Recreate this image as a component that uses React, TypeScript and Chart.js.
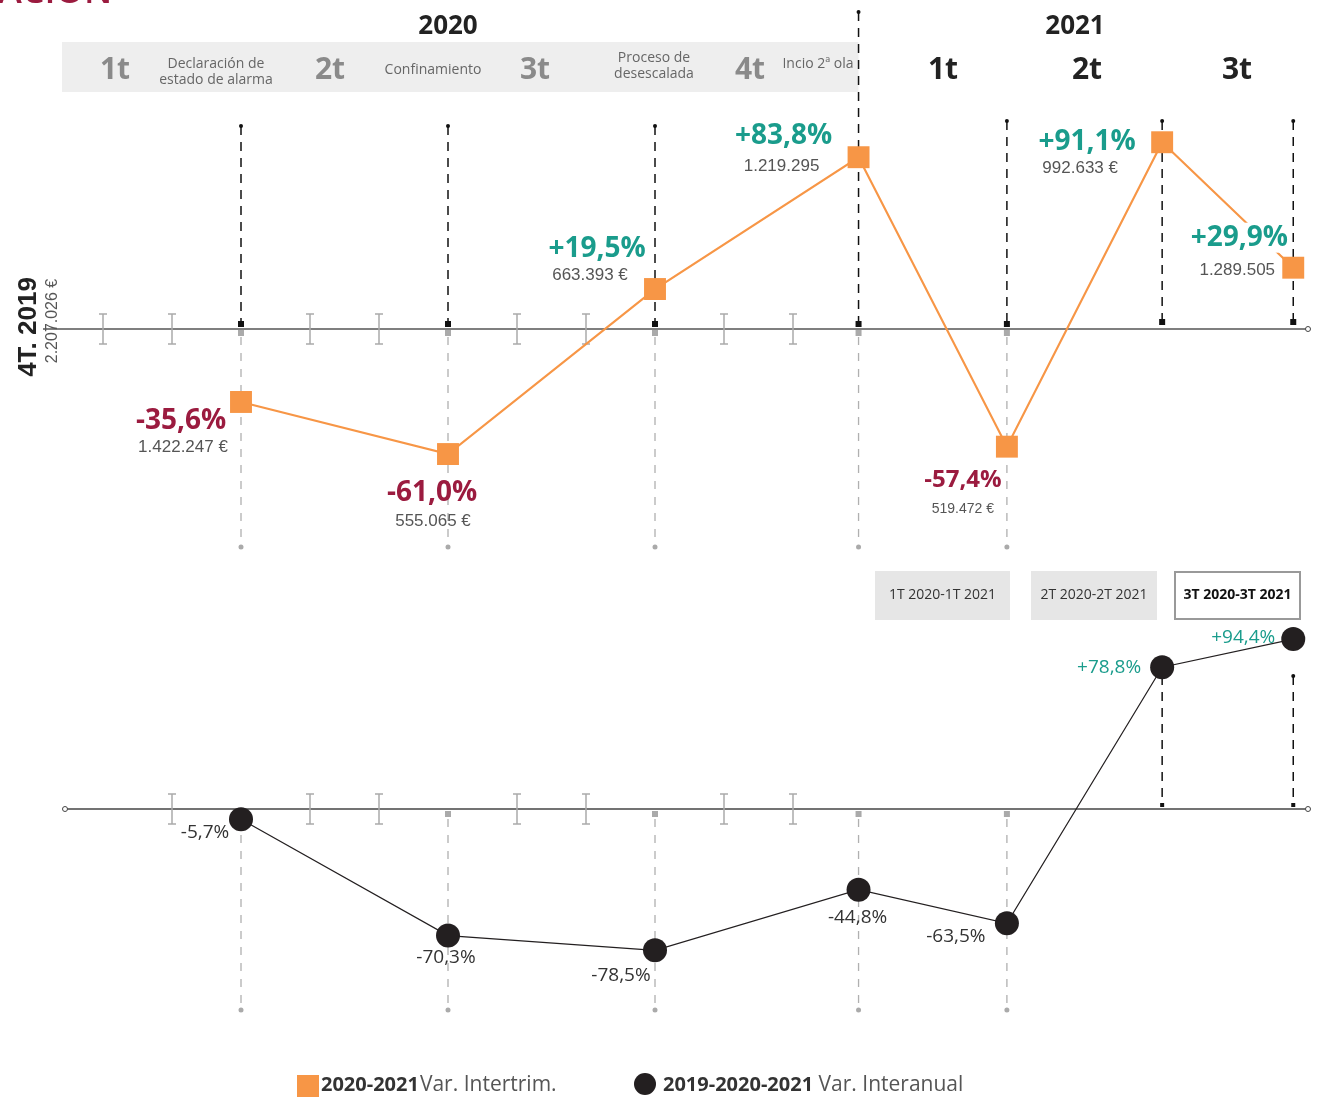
import React, { useEffect, useRef } from 'react';
import { Chart, registerables } from 'chart.js';

Chart.register(...registerables);

// ---------- data ----------
const quarters = ['1T 2020', '2T 2020', '3T 2020', '4T 2020', '1T 2021', '2T 2021', '3T 2021'];
// position of each quarter on the timeline (months-like units; 2021 drawn compressed)
const quarterPos = [3, 6, 9, 11.95, 14.1, 16.35, 18.25];
const monthTicksTop = [1, 2, 4, 5, 7, 8, 10, 11];
const monthTicksBottom = [2, 4, 5, 7, 8, 10, 11];
const intertrimPct = [-35.6, -61.0, 19.5, 83.8, -57.4, 91.1, 29.9];
const intertrimEur = ['1.422.247 €', '555.065 €', '663.393 €', '1.219.295', '519.472 €', '992.633 €', '1.289.505'];
const interanualPct = [-5.7, -70.3, -78.5, -44.8, -63.5, 78.8, 94.4];
const baseLabel = '4T. 2019';
const baseValue = '2.207.026 €';
const periods2020 = ['1t', '2t', '3t', '4t'];
const periods2021 = ['1t', '2t', '3t'];
const events2020 = [['Declaración de', 'estado de alarma'], ['Confinamiento'], ['Proceso de', 'desescalada'], ['Incio 2ª ola']];
const compareButtons = ['1T 2020-1T 2021', '2T 2020-2T 2021', '3T 2020-3T 2021'];
const legendLabels = [['2020-2021', 'Var. Intertrim.'], ['2019-2020-2021', ' Var. Interanual']];

// ---------- layout / style ----------
const W = 1317;
const H = 1100;
const ORANGE = '#F79646';
const DARK = '#231f20';
const CRIMSON = '#9b1b3f';
const TEAL = '#1a9c8c';
const FONT = '"Open Sans", "Noto Sans", sans-serif';
const SANS = '"Liberation Sans", Arial, sans-serif';

// label offsets relative to the marker (center aligned)
const topPctOff = [[-60, 19], [-16, 39], [-58, -40], [-75, -21], [-44, 33], [-75, 0], [-54, -30]];
const topValOff = [[-58, 45], [-15, 67], [-65, -14], [-77, 9], [-44, 62], [-82, 26], [-56, 3]];
const topScale = [1, 1, 1, 1, 0.85, 1, 1];
const botOff = [[-36, 13], [-2, 22], [-34, 25], [-1, 28], [-51, 13], [-53, 0], [-50, -1]];

const fmtPct = (v: number) => (v > 0 ? '+' : '') + v.toFixed(1).replace('.', ',') + '%';

const PX_PER_UNIT = 69;
const X_MIN = 3 - 241 / PX_PER_UNIT;
const X_MAX = X_MIN + W / PX_PER_UNIT;
const TOP_BASE = 329, TOP_K = 2.05;
const BOT_BASE = 809, BOT_K = 1.8;

function text(ctx: CanvasRenderingContext2D, s: string, x: number, y: number, font: string, color: string, align: CanvasTextAlign = 'center') {
  ctx.font = font;
  ctx.fillStyle = color;
  ctx.textAlign = align;
  ctx.textBaseline = 'middle';
  ctx.fillText(s, x, y);
}

function dashed(ctx: CanvasRenderingContext2D, x: number, y1: number, y2: number, color: string, dash: number[], w: number) {
  ctx.save();
  ctx.strokeStyle = color;
  ctx.lineWidth = w;
  ctx.setLineDash(dash);
  ctx.beginPath();
  ctx.moveTo(x, y1);
  ctx.lineTo(x, y2);
  ctx.stroke();
  ctx.restore();
}

function dot(ctx: CanvasRenderingContext2D, x: number, y: number, r: number, color: string) {
  ctx.fillStyle = color;
  ctx.beginPath();
  ctx.arc(x, y, r, 0, Math.PI * 2);
  ctx.fill();
}

function openDot(ctx: CanvasRenderingContext2D, x: number, y: number) {
  ctx.save();
  ctx.fillStyle = '#fff';
  ctx.strokeStyle = '#444';
  ctx.lineWidth = 1;
  ctx.beginPath();
  ctx.arc(x, y, 2.5, 0, Math.PI * 2);
  ctx.fill();
  ctx.stroke();
  ctx.restore();
}

function ibeam(ctx: CanvasRenderingContext2D, x: number, y: number) {
  ctx.save();
  ctx.strokeStyle = '#aaaaaa';
  ctx.lineWidth = 1.5;
  ctx.beginPath();
  ctx.moveTo(x, y - 15); ctx.lineTo(x, y + 15);
  ctx.moveTo(x - 4, y - 15); ctx.lineTo(x + 4, y - 15);
  ctx.moveTo(x - 4, y + 15); ctx.lineTo(x + 4, y + 15);
  ctx.stroke();
  ctx.restore();
}

const decoPlugin = {
  id: 'deco',
  beforeDatasetsDraw(chart: any) {
    const ctx: CanvasRenderingContext2D = chart.ctx;
    const xs = chart.scales.x;
    const px = (v: number) => xs.getPixelForValue(v);
    const baseT = chart.scales.yTop.getPixelForValue(0);
    const baseB = chart.scales.yBot.getPixelForValue(0);
    ctx.save();

    // cut title fragment
    ctx.font = `600 36px ${FONT}`;
    ctx.fillStyle = CRIMSON;
    ctx.textAlign = 'left';
    ctx.textBaseline = 'alphabetic';
    ctx.fillText('ACIÓN', -2, 3);

    // header band 2020
    const q4x = px(quarterPos[3]);
    ctx.fillStyle = '#eeeeee';
    ctx.fillRect(62, 42, q4x - 62, 50);
    text(ctx, '2020', 448, 27, `bold 26px ${FONT}`, '#222');
    text(ctx, '2021', 1075, 27, `bold 26px ${FONT}`, '#222');
    const p20x = [115, 330, 535, 750];
    periods2020.forEach((p, i) => text(ctx, p, p20x[i], 70, `bold 30px ${FONT}`, '#8a8a8a'));
    const evx = [216, 433, 654, 818];
    events2020.forEach((lines, i) => {
      if (lines.length === 2) {
        const y0 = i === 0 ? 64 : 58;
        text(ctx, lines[0], evx[i], y0, `14px ${FONT}`, '#666');
        text(ctx, lines[1], evx[i], y0 + 16, `14px ${FONT}`, '#666');
      } else {
        text(ctx, lines[0], evx[i], i === 3 ? 64 : 70, `14px ${FONT}`, '#666');
      }
    });
    const p21x = [943, 1087, 1237];
    periods2021.forEach((p, i) => text(ctx, p, p21x[i], 70, `bold 30px ${FONT}`, '#222'));

    // top: baseline
    ctx.strokeStyle = '#555';
    ctx.lineWidth = 1.5;
    ctx.beginPath();
    ctx.moveTo(43, baseT); ctx.lineTo(1308, baseT);
    ctx.stroke();
    openDot(ctx, 1308, baseT);
    monthTicksTop.forEach((m) => ibeam(ctx, px(m), baseT));

    // top: vertical guides
    quarterPos.forEach((q, i) => {
      const x = px(q);
      const topY = i === 3 ? 12 : i < 3 ? 126 : 121;
      const endY = i < 5 ? baseT - 4 : baseT - 6;
      dashed(ctx, x, topY, endY, '#111', [9, 7], 1.5);
      dot(ctx, x, topY, 2, '#111');
      ctx.fillStyle = '#111';
      ctx.fillRect(x - 3, endY - 4, 6, 6);
      if (i <= 4) {
        ctx.fillStyle = '#aaaaaa';
        ctx.fillRect(x - 3, baseT + 1, 6, 6);
        dashed(ctx, x, baseT + 8, 545, '#b0b0b0', [8, 8], 1.3);
        dot(ctx, x, 547, 2.5, '#aaaaaa');
      }
    });

    // left rotated base labels
    ctx.save();
    ctx.translate(29, 327);
    ctx.rotate(-Math.PI / 2);
    text(ctx, baseLabel, 0, 0, `bold 26px ${SANS}`, '#222');
    ctx.restore();
    ctx.save();
    ctx.translate(53, 321);
    ctx.rotate(-Math.PI / 2);
    text(ctx, baseValue, 0, 0, `16px ${SANS}`, '#555');
    ctx.restore();

    // compare buttons
    const bx = [[875, 135], [1031, 126], [1175, 125]];
    compareButtons.forEach((b, i) => {
      const [x, w] = bx[i];
      if (i < 2) {
        ctx.fillStyle = '#e6e6e6';
        ctx.fillRect(x, 571, w, 49);
        text(ctx, b, x + w / 2, 595, `14px ${FONT}`, '#333');
      } else {
        ctx.fillStyle = '#fff';
        ctx.fillRect(x, 572, w, 47);
        ctx.strokeStyle = '#999';
        ctx.lineWidth = 2;
        ctx.strokeRect(x, 572, w, 47);
        text(ctx, b, x + w / 2, 595, `bold 14px ${FONT}`, '#111');
      }
    });

    // bottom: baseline
    ctx.strokeStyle = '#444';
    ctx.lineWidth = 1.5;
    ctx.beginPath();
    ctx.moveTo(65, baseB); ctx.lineTo(1308, baseB);
    ctx.stroke();
    openDot(ctx, 65, baseB);
    openDot(ctx, 1308, baseB);
    monthTicksBottom.forEach((m) => ibeam(ctx, px(m), baseB));
    quarterPos.forEach((q, i) => {
      const x = px(q);
      if (i <= 4) {
        ctx.fillStyle = '#aaaaaa';
        ctx.fillRect(x - 3, baseB + 2, 6, 6);
        dashed(ctx, x, baseB + 10, 1006, '#b0b0b0', [8, 8], 1.3);
        dot(ctx, x, 1010, 2.5, '#aaaaaa');
      } else {
        dashed(ctx, x, 676, baseB - 5, '#111', [9, 7], 1.5);
        dot(ctx, x, 676, 2, '#111');
        ctx.fillStyle = '#111';
        ctx.fillRect(x - 2, baseB - 6, 4, 4);
      }
    });

    // legend
    ctx.fillStyle = ORANGE;
    ctx.fillRect(297, 1075, 22, 22);
    ctx.font = `bold 20px ${FONT}`;
    text(ctx, legendLabels[0][0], 321, 1085, `bold 20px ${FONT}`, '#333', 'left');
    let w0 = ctx.measureText(legendLabels[0][0]).width;
    text(ctx, legendLabels[0][1], 321 + w0 + 1, 1085, `21px ${FONT}`, '#555', 'left');
    dot(ctx, 645, 1084, 11, DARK);
    text(ctx, legendLabels[1][0], 663, 1085, `bold 20px ${FONT}`, '#333', 'left');
    ctx.font = `bold 20px ${FONT}`;
    const w1 = ctx.measureText(legendLabels[1][0]).width;
    text(ctx, legendLabels[1][1], 663 + w1, 1085, `21px ${FONT}`, '#555', 'left');

    ctx.restore();
  },
  afterDatasetsDraw(chart: any) {
    const ctx: CanvasRenderingContext2D = chart.ctx;
    const top = chart.getDatasetMeta(0).data;
    const bot = chart.getDatasetMeta(1).data;
    ctx.save();
    intertrimPct.forEach((v, i) => {
      const p = top[i];
      const s = topScale[i];
      const col = v < 0 ? CRIMSON : TEAL;
      const lbl = fmtPct(v);
      const font = `bold ${Math.round(28 * s)}px ${FONT}`;
      const lx = p.x + topPctOff[i][0];
      const ly = p.y + topPctOff[i][1];
      if (i === 6) {
        ctx.font = font;
        const tw = ctx.measureText(lbl).width;
        ctx.fillStyle = '#fff';
        ctx.fillRect(lx - tw / 2 - 4, ly - 15, tw + 8, 30);
      }
      text(ctx, lbl, lx, ly, font, col);
      text(ctx, intertrimEur[i], p.x + topValOff[i][0], p.y + topValOff[i][1], `${Math.round(17 * s)}px ${SANS}`, '#555');
    });
    interanualPct.forEach((v, i) => {
      const p = bot[i];
      text(ctx, fmtPct(v), p.x + botOff[i][0], p.y + botOff[i][1], `19px ${FONT}`, v < 0 ? '#333' : TEAL);
    });
    ctx.restore();
  },
};

export default function App() {
  const ref = useRef<HTMLCanvasElement>(null);
  useEffect(() => {
    if (!ref.current) return;
    const chart = new Chart(ref.current, {
      type: 'line',
      data: {
        labels: quarters,
        datasets: [
          {
            label: 'Var. Intertrim.',
            data: quarterPos.map((x, i) => ({ x, y: intertrimPct[i] })),
            yAxisID: 'yTop',
            borderColor: ORANGE,
            borderWidth: 2.2,
            pointStyle: 'rect',
            pointRadius: 15.5,
            pointBackgroundColor: ORANGE,
            pointBorderWidth: 0,
            tension: 0,
            clip: false as any,
          },
          {
            label: 'Var. Interanual',
            data: quarterPos.map((x, i) => ({ x, y: interanualPct[i] })),
            yAxisID: 'yBot',
            borderColor: DARK,
            borderWidth: 1.2,
            pointStyle: 'circle',
            pointRadius: 12,
            pointBackgroundColor: DARK,
            pointBorderWidth: 0,
            tension: 0,
            clip: false as any,
          },
        ],
      },
      options: {
        responsive: false,
        maintainAspectRatio: false,
        animation: false,
        events: [],
        layout: { padding: 0, autoPadding: false } as any,
        plugins: {
          legend: { display: false },
          tooltip: { enabled: false },
          title: { display: false },
        },
        scales: {
          x: { type: 'linear', display: false, min: X_MIN, max: X_MAX },
          yTop: { type: 'linear', display: false, min: -(H - TOP_BASE) / TOP_K, max: TOP_BASE / TOP_K },
          yBot: { type: 'linear', display: false, min: -(H - BOT_BASE) / BOT_K, max: BOT_BASE / BOT_K },
        },
      },
      plugins: [decoPlugin],
    });
    return () => chart.destroy();
  }, []);
  return (
    <div style={{ position: 'absolute', left: 0, top: 0, width: W, height: H, background: '#fff', overflow: 'hidden' }}>
      <canvas ref={ref} width={W} height={H} style={{ display: 'block' }} />
    </div>
  );
}
